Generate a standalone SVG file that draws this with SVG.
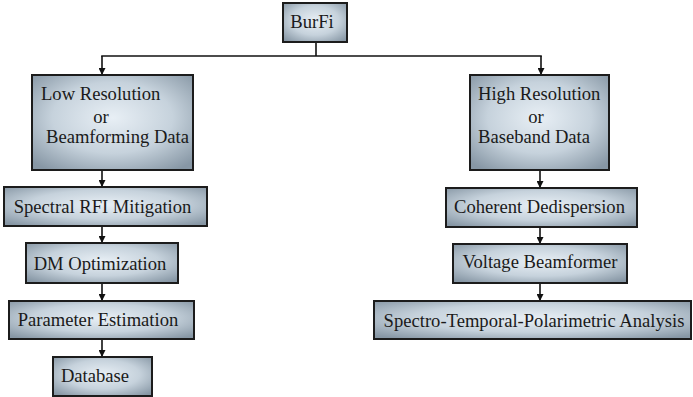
<svg xmlns="http://www.w3.org/2000/svg" width="693" height="397" viewBox="0 0 693 397">
  <defs>
    <radialGradient id="boxFill" cx="50%" cy="45%" r="68%">
      <stop offset="0" stop-color="#e8eff5"/>
      <stop offset="0.55" stop-color="#c6d2dc"/>
      <stop offset="1" stop-color="#8797a5"/>
    </radialGradient>
    <marker id="arrow" viewBox="0 0 10 10" refX="10" refY="5" markerWidth="7" markerHeight="7" markerUnits="userSpaceOnUse" orient="auto">
      <path d="M0,0 L10,5 L0,10 z" fill="#111"/>
    </marker>
    <style>
      .box { fill: url(#boxFill); stroke: #1c1c1c; stroke-width: 2; }
      .lbl { font-family: "Liberation Serif", "Times New Roman", serif; font-size: 18.6px; fill: #1a1a1a; }
      .c { text-anchor: middle; }
      .edge { stroke: #111; stroke-width: 1.6; fill: none; }
      .arr { marker-end: url(#arrow); }
    </style>
  </defs>

  <!-- connectors -->
  <g id="connectors">
    <line class="edge" x1="316" y1="42" x2="316" y2="56"/>
    <line class="edge" x1="101.2" y1="56" x2="541.8" y2="56"/>
    <line class="edge arr" x1="102" y1="56" x2="102" y2="75"/>
    <line class="edge arr" x1="541" y1="56" x2="541" y2="75"/>
    <line class="edge arr" x1="102" y1="170" x2="102" y2="187"/>
    <line class="edge arr" x1="102" y1="226" x2="102" y2="243"/>
    <line class="edge arr" x1="102" y1="283" x2="102" y2="301"/>
    <line class="edge arr" x1="102" y1="339" x2="102" y2="357"/>
    <line class="edge arr" x1="540" y1="170" x2="540" y2="188"/>
    <line class="edge arr" x1="540" y1="227" x2="540" y2="244"/>
    <line class="edge arr" x1="540" y1="283" x2="540" y2="301"/>
  </g>

  <!-- root -->
  <g id="burfi">
    <rect class="box" x="283" y="3" width="64" height="39"/>
    <text class="lbl c" x="312" y="28">BurFi</text>
  </g>

  <!-- left branch -->
  <g id="low-res">
    <rect class="box" x="32" y="75" width="161" height="95"/>
    <text class="lbl" x="41" y="100">Low Resolution</text>
    <text class="lbl c" x="101" y="123">or</text>
    <text class="lbl" x="46" y="143">Beamforming Data</text>
  </g>
  <g id="spectral-rfi">
    <rect class="box" x="4" y="187" width="203" height="39"/>
    <text class="lbl c" x="102.5" y="213">Spectral RFI Mitigation</text>
  </g>
  <g id="dm-opt">
    <rect class="box" x="26" y="243" width="152" height="40"/>
    <text class="lbl c" x="100" y="270">DM Optimization</text>
  </g>
  <g id="param-est">
    <rect class="box" x="9" y="301" width="185" height="38"/>
    <text class="lbl c" x="98" y="326">Parameter Estimation</text>
  </g>
  <g id="database">
    <rect class="box" x="53" y="357" width="99" height="39"/>
    <text class="lbl c" x="95" y="382">Database</text>
  </g>

  <!-- right branch -->
  <g id="high-res">
    <rect class="box" x="470" y="75" width="139" height="95"/>
    <text class="lbl" x="478" y="100">High Resolution</text>
    <text class="lbl c" x="536" y="123">or</text>
    <text class="lbl" x="478" y="143">Baseband Data</text>
  </g>
  <g id="coherent-dedisp">
    <rect class="box" x="446" y="188" width="191" height="39"/>
    <text class="lbl c" x="539.5" y="213">Coherent Dedispersion</text>
  </g>
  <g id="voltage-bf">
    <rect class="box" x="453" y="244" width="174" height="39"/>
    <text class="lbl c" x="540" y="268">Voltage Beamformer</text>
  </g>
  <g id="stp-analysis">
    <rect class="box" x="374" y="301" width="317" height="38"/>
    <text class="lbl c" x="534" y="327">Spectro-Temporal-Polarimetric Analysis</text>
  </g>
</svg>
